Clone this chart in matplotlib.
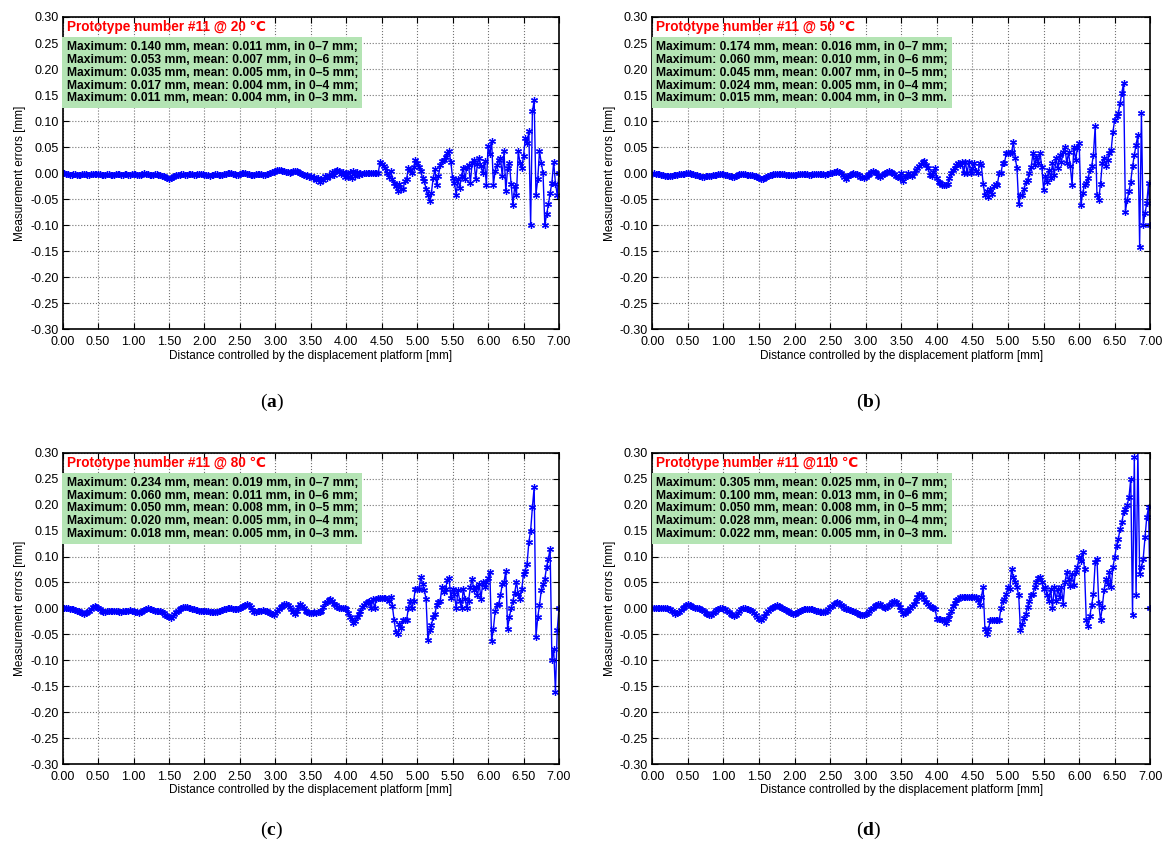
import numpy as np
import matplotlib
matplotlib.use("Agg")
import matplotlib.pyplot as plt
from matplotlib.ticker import MultipleLocator, FormatStrFormatter

plt.rcParams['font.family'] = ['Liberation Sans', 'DejaVu Sans']
plt.rcParams['mathtext.fontset'] = 'custom'
plt.rcParams['mathtext.bf'] = 'Liberation Serif:bold'
plt.rcParams['mathtext.rm'] = 'Liberation Serif'

# sampling of the displacement platform: 0.025 mm steps, 0..7 mm
step = 0.025
dist = np.arange(281) * step

# measurement errors in micrometres, one row = 0.5 mm (20 samples)
err_20 = [
    0, 0, -1, -2, -3, -3, -2, -2, -3, -3, -3, -2, -2, -2, -3, -3, -2, -2, -1, -1,
    -1, -2, -3, -4, -3, -2, -2, -3, -3, -3, -2, -1, -2, -3, -3, -2, -2, -3, -3, -2,
    -2, -2, -3, -4, -3, -1, 0, -1, -2, -3, -3, -3, -2, -2, -3, -4, -5, -6, -8, -10,
    -11, -10, -7, -5, -4, -3, -3, -2, -2, -3, -3, -2, -2, -2, -3, -3, -2, -1, -1, -2,
    -3, -3, -4, -5, -4, -3, -2, -2, -3, -3, -3, -2, -1, 0, 1, 0, -1, -2, -3, -3,
    -2, 0, 1, 0, -1, -2, -3, -4, -3, -2, -1, -1, -2, -3, -3, -2, -1, 0, 2, 3,
    4, 6, 7, 6, 5, 4, 3, 2, 1, 2, 4, 5, 4, 3, 1, -1, -3, -5, -4, -8,
    -6, -10, -8, -14, -9, -17, -11, -13, -6, -10, -3, -6, 2, -4, 5, 7, 4, -2, 3, -8,
    0, -8, 3, -10, 4, -6, 2, -4, 0, -2, 0, 0, 1, 0, 0, 1, 0, 0, 0, 21,
    17, 14, 10, 0, -8, 5, -12, -18, -25, -35, -20, -30, -31, -15, -12, 10, 6, 0, 12, 26,
    20, 12, 5, -10, -15, -30, -41, -53, -38, -10, 8, -22, -5, 15, 23, 26, 32, 38, 42, 21,
    -10, -19, -41, -12, -28, -5, 10, -12, 12, 15, -18, 20, 25, -12, 18, 29, 13, 0, 23, -22,
    52, 36, 62, -22, 5, 15, 25, 30, -6, 42, -35, 10, 20, -20, -62, -25, -41, 42, 20, 10,
    33, 68, 58, 81, -100, 119, 140, -41, -12, 42, 20, 0, -100, -79, -60, -38, -18, 22, -20, -41,
    0,
]

err_50 = [
    -1, 0, -1, -2, -2, -3, -4, -5, -5, -6, -6, -5, -4, -3, -3, -2, -2, -1, -1, 0,
    0, 0, -1, -2, -3, -4, -5, -6, -7, -7, -6, -6, -5, -5, -4, -3, -3, -2, -2, -2,
    -2, -3, -4, -5, -6, -7, -7, -6, -4, -2, -1, -1, -2, -3, -3, -4, -4, -5, -6, -8,
    -10, -11, -11, -9, -7, -5, -4, -3, -2, -1, -1, -1, -2, -2, -2, -3, -3, -4, -4, -4,
    -3, -3, -2, -1, -1, -1, -2, -2, -3, -3, -2, -2, -2, -2, -1, -1, -2, -3, -2, -1,
    0, 1, 2, 3, 4, 2, 0, -4, -8, -11, -6, -3, -1, 0, -1, -2, -4, -7, -8, -9,
    -7, -3, -1, 2, 4, 3, 0, -6, -8, -4, -1, 0, 2, 4, 3, 1, -2, -5, -7, -9,
    0, -15, -8, -6, 0, -3, -6, 0, 6, 10, 13, 18, 22, 24, 16, 10, -3, -6, 3, 10,
    -10, -16, -19, -22, -22, -22, -20, -10, 0, 6, 10, 16, 19, 16, 22, 0, 22, 0, 22, 0,
    10, 19, 5, 0, 19, 15, -20, -42, -35, -45, -30, -40, -25, -20, -22, 0, 0, 19, 20, 38,
    38, 38, 40, 60, 30, 10, -60, -42, -42, -30, -17, -13, 0, 12, 38, 16, 32, 19, 38, 12,
    -32, -6, -16, 6, -10, 19, -3, 29, 10, 35, 22, 40, 51, 19, 40, 13, -22, 51, 25, 48,
    58, -61, -38, -22, -19, -10, 6, 13, 35, 90, -42, -51, -20, 19, 29, 13, 26, 38, 45, 80,
    103, 109, 115, 135, 154, 174, -74, -51, -35, -16, 13, 35, 55, 74, -141, 115, -100, -77, -58, -19,
    -100,
]

err_80 = [
    0, 0, 0, 0, -1, -1, -2, -3, -4, -5, -7, -9, -10, -9, -7, -4, -1, 2, 4, 3,
    1, -2, -5, -7, -6, -5, -4, -4, -4, -5, -5, -5, -6, -6, -5, -5, -4, -4, -3, -4,
    -5, -6, -7, -8, -7, -5, -3, -1, 0, -1, -2, -3, -4, -4, -4, -5, -7, -9, -12, -15,
    -17, -18, -15, -11, -7, -4, -1, 1, 2, 3, 2, 1, 0, -1, -2, -3, -3, -4, -4, -4,
    -4, -5, -5, -6, -6, -7, -7, -6, -5, -4, -3, -2, -1, 0, 0, 0, -1, -2, -2, -1,
    0, 2, 4, 6, 8, 7, 2, -3, -7, -6, -5, -4, -4, -3, -4, -5, -7, -9, -11, -13,
    -9, -5, -1, 2, 5, 8, 9, 7, 3, -2, -6, -10, -4, 3, 8, 5, 0, -4, -7, -9,
    -9, -8, -7, -8, -7, -7, -5, 2, 10, 13, 16, 19, 14, 9, 6, 3, 0, 0, 0, 0,
    -1, -8, -17, -20, -29, -25, -17, -10, -4, 3, 6, 10, 13, 15, 0, 19, 0, 19, 20, 21,
    21, 21, 21, 19, 15, 23, 5, -23, -46, -50, -30, -38, -23, -23, -23, 0, 15, 0, 15, 38,
    38, 38, 60, 48, 35, 19, -60, -42, -32, -17, -10, 6, 12, 15, 41, 32, 38, 54, 58, 20,
    38, 28, 0, 35, 15, 0, 38, 19, 0, 15, 41, 57, 35, 41, 25, 47, 19, 50, 41, 50,
    58, 70, -62, -39, -5, 6, 9, 25, 47, 50, 73, -39, -17, 0, 15, 30, 51, 28, 19, 38,
    67, 73, 86, 128, 150, 195, 234, -55, -17, 6, 35, 47, 57, 80, 96, 115, -100, -78, -161, -42,
    0,
]

err_110 = [
    0, 0, 0, 0, 0, 0, 0, 0, 0, -1, -2, -4, -7, -10, -9, -6, -3, 0, 3, 6,
    8, 7, 5, 3, 1, 0, 0, -1, -3, -5, -8, -11, -13, -12, -9, -6, -3, -1, 0, 0,
    -1, -2, -4, -7, -10, -13, -15, -13, -9, -5, -2, 0, 0, -1, -2, -3, -5, -8, -12, -16,
    -20, -22, -19, -14, -9, -5, -2, 0, 2, 4, 6, 5, 3, 1, -1, -3, -5, -7, -9, -10,
    -10, -9, -7, -5, -3, -2, -1, -1, -2, -2, -2, -3, -4, -5, -6, -7, -7, -6, -4, -1,
    2, 5, 8, 11, 12, 10, 7, 4, 1, -1, -2, -3, -4, -5, -6, -8, -10, -12, -13, -13,
    -11, -8, -5, -2, 1, 4, 7, 9, 8, 5, 2, 0, 3, 6, 9, 12, 15, 13, 8, 2,
    -3, -10, -8, -5, -3, 0, 4, 8, 14, 22, 27, 28, 22, 18, 12, 8, 4, 2, 0, -2,
    -20, -20, -20, -22, -23, -28, -20, -12, -4, 5, 10, 16, 19, 22, 22, 22, 22, 22, 22, 22,
    22, 22, 22, 16, 6, 22, 41, -39, -49, -40, -22, -23, -23, -23, -23, -23, 0, 15, 19, 28,
    41, 38, 76, 60, 50, 41, 25, -42, -30, -18, -10, 3, 15, 25, 28, 41, 50, 58, 60, 50,
    38, 41, 25, 15, 38, 0, 41, 15, 38, 22, 41, 9, 50, 70, 57, 44, 67, 45, 70, 80,
    100, 92, 108, 76, -23, -33, -15, 6, 28, 89, 96, 10, -23, 3, 35, 57, 47, 70, 41, 80,
    99, 121, 134, 153, 166, 185, 192, 200, 214, 250, -13, 291, 25, 305, 67, 80, 96, 137, 176, 195,
    0,
]

temps = ["20", "50", "80", "110"]
max_vals = [
    ["0.140", "0.053", "0.035", "0.017", "0.011"],
    ["0.174", "0.060", "0.045", "0.024", "0.015"],
    ["0.234", "0.060", "0.050", "0.020", "0.018"],
    ["0.305", "0.100", "0.050", "0.028", "0.022"],
]
mean_vals = [
    ["0.011", "0.007", "0.005", "0.004", "0.004"],
    ["0.016", "0.010", "0.007", "0.005", "0.004"],
    ["0.019", "0.011", "0.008", "0.005", "0.005"],
    ["0.025", "0.013", "0.008", "0.006", "0.005"],
]
ranges = ["0\u20137", "0\u20136", "0\u20135", "0\u20134", "0\u20133"]
panel_tags = ["a", "b", "c", "d"]

series = [err_20, err_50, err_80, err_110]

fig = plt.figure(figsize=(11.67, 8.49), dpi=100)
positions = [
    [0.0537, 0.612, 0.4253, 0.368],
    [0.559, 0.612, 0.4267, 0.368],
    [0.0537, 0.100, 0.4253, 0.3667],
    [0.559, 0.100, 0.4267, 0.3667],
]
tag_xy = [(0.233, 0.526), (0.744, 0.526), (0.233, 0.022), (0.744, 0.022)]

for i, err in enumerate(series):
    ax = fig.add_axes(positions[i])
    ax.plot(dist, np.array(err) / 1000.0, color='b', marker=(6, 2, 0), markersize=5,
            markeredgewidth=0.9, linewidth=1.0)
    ax.set_xlim(0, 7)
    ax.set_ylim(-0.3, 0.3)
    ax.xaxis.set_major_locator(MultipleLocator(0.5))
    ax.yaxis.set_major_locator(MultipleLocator(0.05))
    ax.xaxis.set_major_formatter(FormatStrFormatter('%.2f'))
    ax.yaxis.set_major_formatter(FormatStrFormatter('%.2f'))
    ax.grid(True, linestyle=':', color='0.45', linewidth=0.8)
    ax.tick_params(direction='in', top=True, right=True, length=4, labelsize=9)
    ax.tick_params(axis='x', pad=5)
    ax.tick_params(axis='y', pad=3)
    for sp in ax.spines.values():
        sp.set_linewidth(1.2)
    ax.set_xlabel("Distance controlled by the displacement platform [mm]", fontsize=8.5, labelpad=1)
    ax.set_ylabel("Measurement errors [mm]", fontsize=8.5, labelpad=3)

    sep = " " if len(temps[i]) < 3 else ""
    ax.text(0.008, 0.968, "Prototype number #11 @" + sep + temps[i] + " \u2103",
            transform=ax.transAxes, color='red', fontsize=9.8, fontweight='bold',
            va='center', ha='left')
    lines = []
    for k in range(5):
        end = ";" if k < 4 else "."
        lines.append("Maximum: %s mm, mean: %s mm, in %s mm%s"
                     % (max_vals[i][k], mean_vals[i][k], ranges[k], end))
    ax.text(0.008, 0.922, "\n".join(lines), transform=ax.transAxes, fontsize=8.7,
            fontweight='bold', va='top', ha='left', linespacing=1.08, zorder=5,
            bbox=dict(boxstyle='square,pad=0.35', facecolor='#b4e4b4', edgecolor='none'))

    fig.text(tag_xy[i][0], tag_xy[i][1], r"($\mathbf{%s}$)" % panel_tags[i],
             fontsize=14, family='Liberation Serif', ha='center', va='center')

fig.savefig("out.png", dpi=100)
